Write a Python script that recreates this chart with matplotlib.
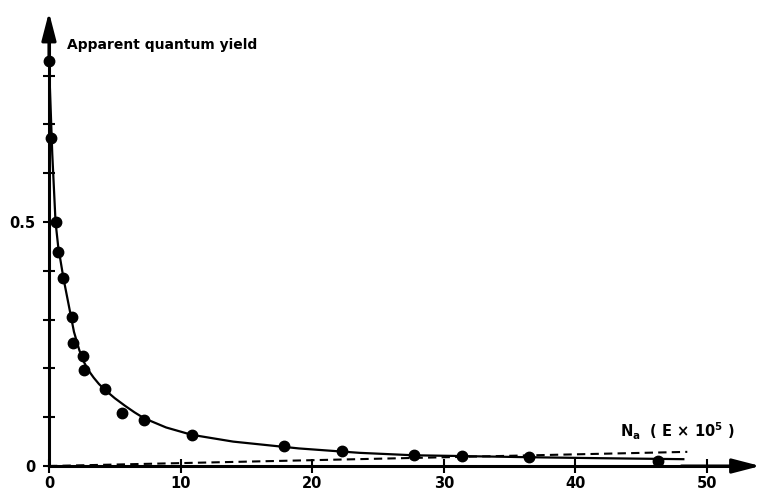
import matplotlib
matplotlib.use("Agg")
import matplotlib.pyplot as plt

# Measured apparent quantum yield vs. absorbed photons N_a (E x 10^5)
na_points = [0.0, 0.15, 0.51, 0.68, 1.09, 1.72, 1.85, 2.58, 2.66, 4.26,
             5.57, 7.22, 10.84, 17.86, 22.24, 27.7, 31.4, 36.5, 46.3]
yield_points = [0.83, 0.672, 0.500, 0.439, 0.386, 0.306, 0.253, 0.225, 0.197, 0.158,
                0.108, 0.094, 0.0635, 0.041, 0.030, 0.0225, 0.021, 0.018, 0.011]

# Fitted decay curve (solid)
curve_na = [0.0, 0.25, 0.5, 0.7, 1.1, 1.5, 1.9, 2.3, 2.6, 3.0, 3.4, 3.8, 4.26, 5.0,
            5.8, 6.5, 7.22, 8.9, 10.84, 14.0, 16.5, 19.0, 23.6, 27.7, 31.2, 36.5,
            42.0, 48.2]
curve_yield = [0.83, 0.64, 0.50, 0.45, 0.385, 0.33, 0.275, 0.238, 0.216, 0.196, 0.181,
               0.168, 0.156, 0.139, 0.123, 0.110, 0.098, 0.079, 0.064, 0.050, 0.043,
               0.036, 0.027, 0.022, 0.0205, 0.018, 0.016, 0.014]

# Baseline contribution (dashed)
base_na = [0.0, 48.5]
base_yield = [0.0, 0.029]

x_ticks = [0, 10, 20, 30, 40, 50]
x_tick_labels = ["0", "10", "20", "30", "40", "50"]
y_ticks = [0, 0.1, 0.2, 0.3, 0.4, 0.5, 0.6, 0.7, 0.8]
y_tick_labels = ["0", "", "", "", "", "0.5", "", "", ""]

fig = plt.figure(figsize=(7.61, 4.91), dpi=100)
ax = fig.add_axes([0, 0, 1, 1])
ax.set_xlim(-3.72, 54.1)
ax.set_ylim(-0.0512, 0.955)

x_tip = 54.05
y_tip = 0.93

for side in ("top", "right"):
    ax.spines[side].set_visible(False)
ax.spines["left"].set_position(("data", 0))
ax.spines["bottom"].set_position(("data", 0))
ax.spines["left"].set_bounds(0, y_tip - 0.03)
ax.spines["bottom"].set_bounds(0, x_tip - 1.5)
ax.spines["left"].set_linewidth(2.2)
ax.spines["bottom"].set_linewidth(2.2)

arrow_kw = dict(arrowstyle="-|>,head_length=0.85,head_width=0.22",
                mutation_scale=20, color="black", lw=2.2, shrinkA=0, shrinkB=0)
ax.annotate("", xy=(0, y_tip), xytext=(0, y_tip - 0.1), arrowprops=arrow_kw)
ax.annotate("", xy=(x_tip, 0), xytext=(x_tip - 6, 0), arrowprops=arrow_kw)

ax.set_xticks(x_ticks)
ax.set_xticklabels(x_tick_labels)
ax.set_yticks(y_ticks)
ax.set_yticklabels(y_tick_labels)
ax.tick_params(axis="x", direction="inout", length=10, width=1.5, pad=2,
               labelsize=10.5)
ax.tick_params(axis="y", direction="inout", length=9, width=1.5, pad=5,
               labelsize=10.5)
for lab in ax.get_xticklabels() + ax.get_yticklabels():
    lab.set_fontweight("bold")

ax.plot(base_na, base_yield, color="black", lw=1.5, ls=(0, (4, 2.5)))
ax.plot(curve_na, curve_yield, color="black", lw=1.6, solid_joinstyle="round")
ax.plot(na_points, yield_points, "o", color="black", markersize=7.5)

ax.text(1.37, 0.863, "Apparent quantum yield", fontsize=10, fontweight="bold",
        ha="left", va="center")
ax.text(43.4, 0.059, r"N$_\mathbf{a}$  ( E × 10$^\mathbf{5}$ )", fontsize=10.5,
        fontweight="bold", ha="left", va="baseline")

fig.savefig("out.png", dpi=100)
